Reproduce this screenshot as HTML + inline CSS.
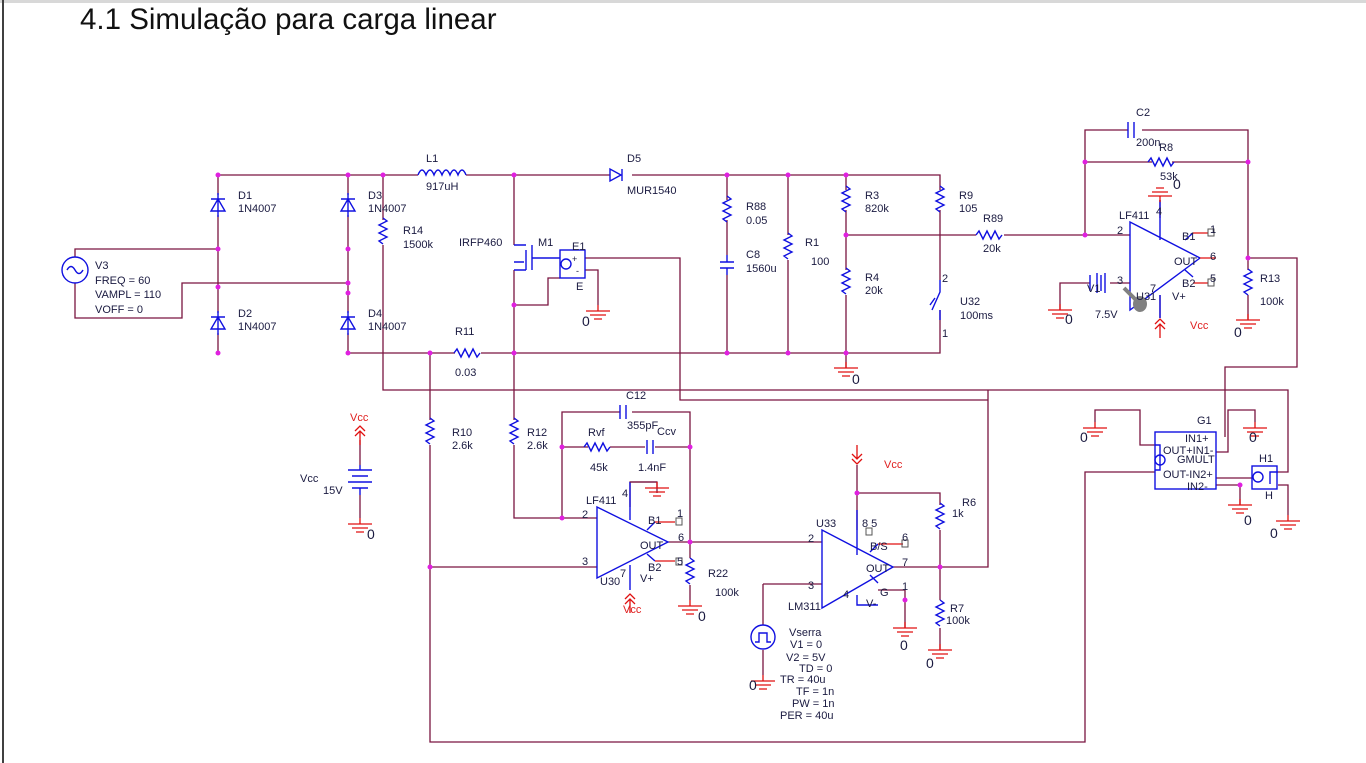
<!DOCTYPE html>
<html><head><meta charset="utf-8"><style>
html,body{margin:0;padding:0;background:#fff;width:1366px;height:763px;overflow:hidden}
svg{position:absolute;left:0;top:0}
text{font-family:"Liberation Sans",sans-serif;font-size:11px;fill:#1a1a40}
.w{stroke:#7a1540;stroke-width:1.3;fill:none}
.b{stroke:#1010e0;stroke-width:1.4;fill:none}
.r{stroke:#e01010;stroke-width:1.3;fill:none}
.d{fill:#e020e0}
.red{fill:#e02020}
</style></head><body>
<svg width="1366" height="763" viewBox="0 0 1366 763">
<defs>
<g id="gnd"><path class="r" d="M-12,0h24M-8,4h16M-4,8h8M0,-6v6"/></g>
<g id="rv"><path class="b" d="M0,-14l4,3l-8,4l8,4l-8,4l8,4l-8,4l4,3"/></g>
<g id="rh"><path class="b" d="M-14,0l3,-4l4,8l4,-8l4,8l4,-8l4,8l3,-4"/></g>
<g id="dup"><path class="b" d="M0,-12v24M-7,6h14L0,-6z M-7,-6h14"/></g>
<g id="vccu"><path class="r" d="M-5,6l5,-5l5,5M-5,11l5,-5l5,5M0,6v14"/></g>
<g id="vccd"><path class="r" d="M-5,-6l5,5l5,-5M-5,-11l5,5l5,-5M0,-6v-14"/></g>
</defs>
<rect x="0" y="0" width="1366" height="3" fill="#d8d8d8"/>
<rect x="2" y="0" width="2" height="763" fill="#404040"/>
<text x="80" y="29" style="font-size:29.5px;fill:#111">4.1 Simulação para carga linear</text>

<path class="w" d="M218,175H418M466,175H610M632,175H940V188M218,175V195M348,175V195M218,215V313M348,215V313M218,333V353M348,333V353H455M481,353H940V335
M75,257V249H218M75,283V318H182V283H348
M383,175V220M383,245V390H988V567H940
M514,175V245M514,270V353M514,305H548V278H560M585,258H680V400H988
M585,270H598V305
M727,175V200M727,220V255M727,275V353M788,175V235M788,260V353M846,175V190M846,210V270M846,295V368M940,175V190M940,210V280M940,310V353
M846,235H976M1004,235H1130M1085,235V130H1128M1142,130H1248V258H1297V367H1225V437M1085,162H1152M1172,162H1248M1248,258V270M1248,295V320
M1060,310V283H1090M1110,283H1130M1160,200V218M1160,295V318
M383,390H1288V472H1278M1278,485H1288V515
M1155,445H1140V410H1095V422M1155,472H1085V742H430V445M430,420V353
M1216,452H1228V410H1255V422M1216,478H1252M1216,485H1240V505
M514,353V420M514,445V518H597M562,518V412H620M632,412H690V542M562,447H588M610,447H645M655,447H690
M430,567H597M668,542H822M690,542V558M690,585V600M657,493V482H630V507
M857,465V530M857,493H940V505M940,530V600M940,628V650M893,567H988M763,584H822M763,584V625M763,650V675M878,590H905V628
M360,440V465M360,495V518"/>
<g class="d">
<circle cx="218" cy="175" r="2.5"/><circle cx="348" cy="175" r="2.5"/><circle cx="383" cy="175" r="2.5"/><circle cx="514" cy="175" r="2.5"/><circle cx="727" cy="175" r="2.5"/><circle cx="788" cy="175" r="2.5"/><circle cx="846" cy="175" r="2.5"/>
<circle cx="218" cy="249" r="2.5"/><circle cx="218" cy="287" r="2.5"/><circle cx="348" cy="283" r="2.5"/><circle cx="348" cy="249" r="2.5"/><circle cx="348" cy="293" r="2.5"/>
<circle cx="218" cy="353" r="2.5"/><circle cx="348" cy="353" r="2.5"/><circle cx="430" cy="353" r="2.5"/><circle cx="514" cy="353" r="2.5"/><circle cx="727" cy="353" r="2.5"/><circle cx="788" cy="353" r="2.5"/><circle cx="846" cy="353" r="2.5"/>
<circle cx="514" cy="305" r="2.5"/><circle cx="846" cy="235" r="2.5"/><circle cx="1085" cy="235" r="2.5"/><circle cx="1085" cy="162" r="2.5"/><circle cx="1248" cy="162" r="2.5"/><circle cx="1248" cy="258" r="2.5"/>
<circle cx="562" cy="518" r="2.5"/><circle cx="562" cy="447" r="2.5"/><circle cx="690" cy="447" r="2.5"/><circle cx="690" cy="542" r="2.5"/><circle cx="430" cy="567" r="2.5"/>
<circle cx="857" cy="493" r="2.5"/><circle cx="940" cy="567" r="2.5"/><circle cx="905" cy="600" r="2.5"/><circle cx="1240" cy="485" r="2.5"/>
</g>
<circle cx="75" cy="270" r="13" class="b"/><path class="b" d="M67,270q4,-7 8,0t8,0"/>
<use href="#dup" x="218" y="205"/><use href="#dup" x="218" y="323"/><use href="#dup" x="348" y="205"/><use href="#dup" x="348" y="323"/>
<path class="b" d="M418,175q4,-10 8,0q4,-10 8,0q4,-10 8,0q4,-10 8,0q4,-10 8,0q4,-10 8,0"/>
<path class="b" d="M610,169v12l11,-6zM622,169v12"/>
<use href="#rv" x="383" y="232"/><use href="#rh" x="468" y="353"/>
<path class="b" d="M514,245h12M514,270h12M526,250v20M532,245v25M532,258h28M514,262h10"/>
<rect x="560" y="250" width="25" height="28" class="b"/><circle cx="566" cy="264" r="5" class="b"/>
<use href="#gnd" x="598" y="311"/>
<use href="#rv" x="727" y="210"/><path class="b" d="M720,262h14M720,268h14M727,255v7M727,268v7"/>
<use href="#rv" x="788" y="247"/><use href="#rv" x="846" y="200"/><use href="#rv" x="846" y="282"/><use href="#rv" x="940" y="200"/>
<use href="#gnd" x="846" y="368"/>
<path class="b" d="M940,280v12l-8,18M940,310v10M930,305l5,-7"/>
<use href="#rh" x="990" y="235"/>
<path class="b" d="M1128,122v16M1134,122v16"/><use href="#rh" x="1162" y="162"/>
<path class="b" d="M1130,222V310L1200,258ZM1160,200V240M1185,240l8,-7M1185,270l8,7M1160,295V318"/>
<path class="r" d="M1193,233h15M1193,283h15M1200,258h16"/><rect x="1208" y="229" width="6" height="7" fill="none" stroke="#555"/><rect x="1208" y="279" width="6" height="7" fill="none" stroke="#555"/>
<use href="#gnd" x="1160" y="196" transform="rotate(180 1160 196)"/>
<use href="#vccu" x="1160" y="318"/>
<path class="b" d="M1090,275v16M1097,273v20M1101,275v16M1105,273v20"/>
<use href="#gnd" x="1060" y="310"/><use href="#rv" x="1248" y="283"/><use href="#gnd" x="1248" y="320"/>
<ellipse cx="1140" cy="304" rx="7" ry="8" fill="#808080"/><path d="M1124,288l12,12" stroke="#808080" stroke-width="4"/>
<rect x="1155" y="432" width="61" height="57" class="b"/><circle cx="1160" cy="460" r="5" class="b"/><path class="b" d="M1155,445h5v25h-5"/>
<rect x="1252" y="466" width="25" height="23" class="b"/><circle cx="1258" cy="477" r="5" class="b"/><path class="b" d="M1278,472h-8v12"/>
<use href="#gnd" x="1095" y="428"/><use href="#gnd" x="1255" y="428"/><use href="#gnd" x="1240" y="505"/><use href="#gnd" x="1288" y="521"/>
<use href="#rv" x="430" y="432"/><use href="#rv" x="514" y="432"/>
<path class="b" d="M620,405v14M626,405v14"/><use href="#rh" x="598" y="447"/><path class="b" d="M647,440v14M653,440v14"/>
<path class="b" d="M597,507V578L668,542ZM630,482V520M647,530l8,-8M647,554l8,7M630,565V590"/>
<path class="r" d="M655,522h20M655,561h20"/><rect x="676" y="518" width="6" height="7" fill="none" stroke="#555"/><rect x="676" y="558" width="6" height="7" fill="none" stroke="#555"/>
<path class="w" d="M630,482H657"/><use href="#gnd" x="657" y="488"/>
<use href="#vccu" x="630" y="593"/><use href="#rv" x="690" y="572"/><use href="#gnd" x="690" y="606"/>
<use href="#vccu" x="360" y="425"/><path class="b" d="M348,470h24M352,476h16M348,482h24M352,488h16M360,465v5M360,488v7"/><use href="#gnd" x="360" y="524"/>
<path class="b" d="M822,530V608L893,567ZM857,510V555M870,575l8,8M870,552l8,-8M857,595V605H878"/>
<path class="r" d="M878,544h25"/><rect x="902" y="540" width="6" height="7" fill="none" stroke="#555"/><rect x="866" y="528" width="6" height="7" fill="none" stroke="#555"/>
<use href="#vccd" x="857" y="465"/><use href="#rv" x="940" y="517"/><use href="#rv" x="940" y="614"/><use href="#gnd" x="940" y="650"/><use href="#gnd" x="905" y="628"/>
<circle cx="763" cy="637" r="12" class="b"/><path class="b" d="M755,642h4v-9h8v9h4"/><use href="#gnd" x="763" y="681"/>
<text x="238" y="199">D1</text><text x="238" y="212">1N4007</text>
<text x="368" y="199">D3</text><text x="368" y="212">1N4007</text>
<text x="238" y="317">D2</text><text x="238" y="330">1N4007</text>
<text x="368" y="317">D4</text><text x="368" y="330">1N4007</text>
<text x="95" y="269">V3</text><text x="95" y="284">FREQ = 60</text><text x="95" y="298">VAMPL = 110</text><text x="95" y="313">VOFF = 0</text>
<text x="426" y="162">L1</text><text x="426" y="190">917uH</text>
<text x="627" y="162">D5</text><text x="627" y="194">MUR1540</text>
<text x="403" y="234">R14</text><text x="403" y="248">1500k</text>
<text x="459" y="246">IRFP460</text><text x="538" y="246">M1</text><text x="572" y="250">E1</text><text x="576" y="290">E</text>
<text x="572" y="262" style="font-size:9px">+</text><text x="576" y="274" style="font-size:9px">-</text>
<text x="582" y="326" style="font-size:14px">0</text>
<text x="455" y="335">R11</text><text x="455" y="376">0.03</text>
<text x="746" y="210">R88</text><text x="746" y="224">0.05</text><text x="746" y="258">C8</text><text x="746" y="272">1560u</text>
<text x="805" y="246">R1</text><text x="811" y="265">100</text>
<text x="865" y="199">R3</text><text x="865" y="212">820k</text><text x="865" y="281">R4</text><text x="865" y="294">20k</text>
<text x="959" y="199">R9</text><text x="959" y="212">105</text><text x="983" y="222">R89</text><text x="983" y="252">20k</text>
<text x="942" y="282">2</text><text x="942" y="337">1</text><text x="960" y="305">U32</text><text x="960" y="319">100ms</text>
<text x="852" y="384" style="font-size:14px">0</text>
<text x="1136" y="116">C2</text><text x="1136" y="146">200n</text><text x="1159" y="151">R8</text><text x="1160" y="180">53k</text><text x="1173" y="189" style="font-size:14px">0</text>
<text x="1119" y="219">LF411</text><text x="1117" y="234">2</text><text x="1156" y="215">4</text><text x="1182" y="240">B1</text><text x="1210" y="233">1</text>
<text x="1174" y="265">OUT</text><text x="1210" y="260">6</text><text x="1182" y="287">B2</text><text x="1210" y="282">5</text>
<text x="1117" y="284">3</text><text x="1150" y="292">7</text><text x="1136" y="300">U31</text><text x="1172" y="300">V+</text>
<text x="1087" y="292">V1</text><text x="1095" y="318">7.5V</text><text x="1065" y="324" style="font-size:14px">0</text>
<text x="1190" y="329" style="fill:#e02020">Vcc</text>
<text x="1260" y="282">R13</text><text x="1260" y="305">100k</text><text x="1234" y="337" style="font-size:14px">0</text>
<text x="1197" y="424">G1</text><text x="1185" y="442">IN1+</text><text x="1163" y="454">OUT+IN1-</text><text x="1177" y="463">GMULT</text>
<text x="1163" y="478">OUT-IN2+</text><text x="1187" y="490">IN2-</text>
<text x="1259" y="462">H1</text><text x="1265" y="499">H</text>
<text x="1080" y="442" style="font-size:14px">0</text><text x="1249" y="442" style="font-size:14px">0</text><text x="1244" y="525" style="font-size:14px">0</text><text x="1270" y="538" style="font-size:14px">0</text>
<text x="452" y="436">R10</text><text x="452" y="449">2.6k</text><text x="527" y="436">R12</text><text x="527" y="449">2.6k</text>
<text x="626" y="399">C12</text><text x="627" y="429">355pF</text><text x="657" y="435">Ccv</text>
<text x="588" y="436">Rvf</text><text x="590" y="471">45k</text><text x="638" y="471">1.4nF</text>
<text x="350" y="421" style="fill:#e02020">Vcc</text><text x="300" y="482">Vcc</text><text x="323" y="494">15V</text><text x="367" y="539" style="font-size:14px">0</text>
<text x="586" y="504">LF411</text><text x="582" y="518">2</text><text x="622" y="497">4</text><text x="648" y="524">B1</text><text x="677" y="517">1</text>
<text x="640" y="549">OUT</text><text x="678" y="541">6</text><text x="648" y="571">B2</text><text x="677" y="565">5</text>
<text x="582" y="565">3</text><text x="620" y="577">7</text><text x="600" y="585">U30</text><text x="640" y="582">V+</text>
<text x="623" y="613" style="fill:#e02020">Vcc</text><text x="708" y="577">R22</text><text x="715" y="596">100k</text><text x="698" y="621" style="font-size:14px">0</text>
<text x="884" y="468" style="fill:#e02020">Vcc</text><text x="816" y="527">U33</text><text x="808" y="542">2</text><text x="808" y="589">3</text>
<text x="862" y="527">8 5</text><text x="870" y="550">B/S</text><text x="902" y="541">6</text><text x="866" y="572">OUT</text><text x="902" y="566">7</text>
<text x="880" y="596">G</text><text x="902" y="590">1</text><text x="843" y="598">4</text><text x="866" y="607">V-</text><text x="788" y="610">LM311</text>
<text x="962" y="506">R6</text><text x="952" y="517">1k</text><text x="950" y="612">R7</text><text x="946" y="624">100k</text>
<text x="926" y="668" style="font-size:14px">0</text><text x="900" y="650" style="font-size:14px">0</text>
<text x="789" y="636">Vserra</text><text x="790" y="648">V1 = 0</text><text x="786" y="661">V2 = 5V</text><text x="799" y="672">TD = 0</text>
<text x="780" y="683">TR = 40u</text><text x="796" y="695">TF = 1n</text><text x="792" y="707">PW = 1n</text><text x="780" y="719">PER = 40u</text>
<text x="749" y="690" style="font-size:14px">0</text>
</svg>
</body></html>
